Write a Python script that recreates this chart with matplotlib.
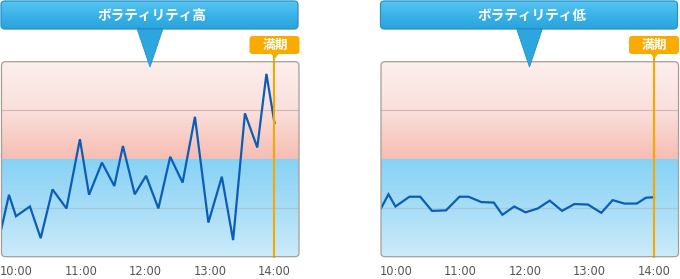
import numpy as np
import matplotlib
matplotlib.use("Agg")
import matplotlib.pyplot as plt
from matplotlib.patches import FancyBboxPatch, Polygon
from matplotlib.colors import LinearSegmentedColormap

# ---- data (minutes relative to 10:00, value level 0-4) ----
times_min = [-14, -7, -0.5, 12.5, 22.5, 33.5, 46.5, 59, 67.5, 79.5, 91, 99, 110,
             120.5, 132, 143, 154.5, 166, 178.5, 191, 201.5, 212.5, 224, 232.5, 240]
high_vol = [0.58, 1.27, 0.83, 1.03, 0.38, 1.38, 0.99, 2.41, 1.27, 1.93, 1.45, 2.27, 1.28,
            1.66, 0.99, 2.05, 1.52, 2.87, 0.70, 1.64, 0.34, 2.94, 2.24, 3.75, 2.74]
low_vol = [0.99, 1.28, 1.03, 1.23, 1.23, 0.94, 0.95, 1.23, 1.23, 1.12, 1.11, 0.86, 1.03,
           0.91, 0.99, 1.15, 0.94, 1.08, 1.07, 0.90, 1.16, 1.09, 1.09, 1.21, 1.22]
tick_pos = [0, 60, 120, 180, 240]
tick_labels = ["10:00", "11:00", "12:00", "13:00", "14:00"]
titles = ["ボラティリティ高", "ボラティリティ低"]
maturity_label = "満期"
maturity_time = 240

W, H = 680, 279
fig = plt.figure(figsize=(W / 100, H / 100), dpi=100)
fig.patch.set_facecolor("white")

CJK = ["Noto Sans CJK JP", "DejaVu Sans"]

# overlay in pixel coordinates
ov = fig.add_axes([0, 0, 1, 1], zorder=10)
ov.set_xlim(0, W)
ov.set_ylim(H, 0)
ov.axis("off")
ov.patch.set_alpha(0)

pink_cmap = LinearSegmentedColormap.from_list("pink", ["#f6bdb2", "#fae0dc", "#fcefed"])
blue_cmap = LinearSegmentedColormap.from_list("blue", ["#cdebfa", "#a8ddf7", "#86d2f5"])
call_cmap = LinearSegmentedColormap.from_list("call", ["#2aa3dc", "#3bb3e8", "#58c6f1"])
grad = np.linspace(0, 1, 256).reshape(-1, 1)

panels = [(1.5, high_vol, titles[0]), (381.0, low_vol, titles[1])]
box_w = 297.5
top_px, bot_px = 61.7, 256.7
xmin, xmax = -13.95, 262.8

for x0, series, title in panels:
    ax = fig.add_axes([x0 / W, 1 - bot_px / H, box_w / W, (bot_px - top_px) / H], zorder=1)
    ax.set_xlim(xmin, xmax)
    ax.set_ylim(0, 4)
    for s in ax.spines.values():
        s.set_visible(False)
    ax.patch.set_alpha(0)

    clip = FancyBboxPatch((x0, top_px), box_w, bot_px - top_px,
                          boxstyle="round,pad=0,rounding_size=4",
                          transform=ov.transData, facecolor="none", edgecolor="none")
    im1 = ax.imshow(grad, extent=(xmin, xmax, 2, 4), origin="lower", cmap=pink_cmap,
                    aspect="auto", zorder=0)
    im2 = ax.imshow(grad, extent=(xmin, xmax, 0, 2), origin="lower", cmap=blue_cmap,
                    aspect="auto", zorder=0)
    im1.set_clip_path(clip)
    im2.set_clip_path(clip)
    ax.set_xlim(xmin, xmax)
    ax.set_ylim(0, 4)

    ax.axhline(3, color="#d2b8b2", lw=0.8, zorder=1)
    ax.axhline(1, color="#a6c6d4", lw=0.8, zorder=1)

    ax.plot(times_min, series, color="#0b5db6", lw=1.6, zorder=3, solid_joinstyle="miter")
    ax.axvline(maturity_time, ymin=0, ymax=1.03, color="#f5a800", lw=1.5, zorder=4,
               clip_on=False)

    ax.set_yticks([])
    ax.set_xticks(tick_pos)
    ax.set_xticklabels(tick_labels)
    ax.tick_params(axis="x", length=0, pad=6.3, labelsize=8.3, labelcolor="#555555")

    # border
    border = FancyBboxPatch((x0, top_px), box_w, bot_px - top_px,
                            boxstyle="round,pad=0,rounding_size=4",
                            facecolor="none", edgecolor="#a59d96", lw=0.9)
    ov.add_patch(border)

    # callout
    cx0, cx1, cy0, cy1 = x0 - 0.5, x0 + box_w - 1, 1.0, 29.0
    cmid = x0 + 148.5
    cb = FancyBboxPatch((cx0, cy0), cx1 - cx0, cy1 - cy0,
                        boxstyle="round,pad=0,rounding_size=4",
                        facecolor="none", edgecolor="#2b8fc6", lw=0.9, zorder=3)
    ov.add_patch(cb)
    cim = ov.imshow(grad, extent=(cx0, cx1, cy1, cy0), origin="lower", cmap=call_cmap,
                    aspect="auto", zorder=2)
    cim.set_clip_path(cb)
    tri = Polygon([[cmid - 13, cy1 - 0.6], [cmid + 13, cy1 - 0.6], [cmid, 67]],
                  closed=True, facecolor="#2ba6de", edgecolor="#2590c8", lw=0.6, zorder=2.5)
    ov.add_patch(tri)
    ov.text(cmid + 2, 15.5, title, color="white", fontsize=9.8, fontweight="bold",
            family=CJK, ha="center", va="center", zorder=5)

    # maturity label
    mx = x0 + 273.5
    mb = FancyBboxPatch((mx - 25.5, 36), 50, 18, boxstyle="round,pad=0,rounding_size=3",
                        facecolor="#f9ab00", edgecolor="none", zorder=3)
    ov.add_patch(mb)
    ov.add_patch(Polygon([[mx - 4, 53.5], [mx + 4, 53.5], [mx, 58.5]], closed=True,
                         facecolor="#f9ab00", edgecolor="none", zorder=3))
    ov.text(mx, 45.5, maturity_label, color="white", fontsize=9.2, fontweight="bold",
            family=CJK, ha="center", va="center", zorder=5)

ov.set_xlim(0, W)
ov.set_ylim(H, 0)

fig.savefig("out.png", dpi=100, facecolor="white")
